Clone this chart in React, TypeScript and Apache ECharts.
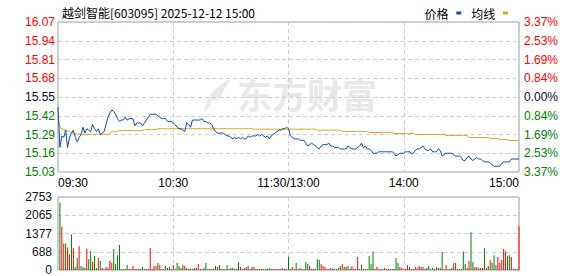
import React, { useEffect, useRef } from "react";
import * as echarts from "echarts";

const TITLE = "越剑智能[603095] 2025-12-12 15:00";
const PRICE_TICKS = ["15.03", "15.16", "15.29", "15.42", "15.55", "15.68", "15.81", "15.94", "16.07"];
const PCT_TICKS = ["3.37%", "2.53%", "1.69%", "0.84%", "0.00%", "0.84%", "1.69%", "2.53%", "3.37%"];
const VOL_TICKS = ["0", "688", "1377", "2065", "2753"];
const PRICE_BASE = 15.03;
const PRICE_STEP = 0.13;
const VOL_MAX = 2753;
const TIME_LABELS: Record<number, string> = { 0: "09:30", 60: "10:30", 120: "11:30/13:00", 180: "14:00", 240: "15:00" };

const price = [
  15.48, 15.20, 15.28, 15.27, 15.32, 15.20, 15.27, 15.30, 15.32, 15.27,
  15.24, 15.27, 15.29, 15.34, 15.30, 15.33, 15.32, 15.31, 15.36, 15.33,
  15.31, 15.33, 15.29, 15.30, 15.31, 15.36, 15.41, 15.44, 15.46, 15.45,
  15.43, 15.40, 15.38, 15.39, 15.39, 15.41, 15.39, 15.40, 15.40, 15.40,
  15.35, 15.37, 15.37, 15.37, 15.35, 15.37, 15.39, 15.41, 15.43, 15.43,
  15.43, 15.43, 15.42, 15.41, 15.40, 15.40, 15.40, 15.38, 15.38, 15.38,
  15.37, 15.36, 15.34, 15.33, 15.33, 15.32, 15.31, 15.37, 15.36, 15.34,
  15.39, 15.39, 15.39, 15.39, 15.39, 15.40, 15.38, 15.38, 15.37, 15.37,
  15.36, 15.33, 15.31, 15.30, 15.30, 15.30, 15.30, 15.29, 15.28, 15.28,
  15.27, 15.26, 15.27, 15.26, 15.27, 15.26, 15.27, 15.26, 15.26, 15.28,
  15.27, 15.28, 15.28, 15.28, 15.29, 15.28, 15.29, 15.28, 15.27, 15.28,
  15.26, 15.28, 15.29, 15.30, 15.31, 15.32, 15.32, 15.33, 15.33, 15.34,
  15.33,
  15.28, 15.27, 15.26, 15.26, 15.26, 15.25, 15.25, 15.25, 15.23, 15.21,
  15.22, 15.23, 15.22, 15.21, 15.20, 15.19, 15.21, 15.22, 15.22, 15.22,
  15.23, 15.21, 15.21, 15.20, 15.20, 15.20, 15.19, 15.19, 15.19, 15.19,
  15.21, 15.20, 15.19, 15.19, 15.19, 15.20, 15.21, 15.23, 15.20, 15.21,
  15.19, 15.19, 15.18, 15.16, 15.16, 15.16, 15.17, 15.17, 15.17, 15.17,
  15.17, 15.17, 15.17, 15.17, 15.16, 15.14, 15.15, 15.16, 15.16, 15.16,
  15.17, 15.17, 15.17, 15.16, 15.16, 15.18, 15.19, 15.19, 15.20, 15.21,
  15.19, 15.18, 15.18, 15.19, 15.17, 15.17, 15.17, 15.19, 15.18, 15.14,
  15.15, 15.16, 15.16, 15.16, 15.16, 15.15, 15.14, 15.14, 15.14, 15.13,
  15.11, 15.11, 15.13, 15.14, 15.12, 15.11, 15.12, 15.13, 15.12, 15.12,
  15.11, 15.10, 15.10, 15.10, 15.09, 15.08, 15.07, 15.07, 15.07, 15.07,
  15.09, 15.10, 15.10, 15.10, 15.10, 15.12, 15.12, 15.12, 15.12, 15.12,
];

const avgPrice = [
  15.41, 15.34, 15.33, 15.325, 15.32, 15.315, 15.31, 15.305, 15.3, 15.297,
  15.292, 15.292, 15.292, 15.292, 15.292, 15.292, 15.292, 15.292, 15.292, 15.292,
  15.292, 15.292, 15.292, 15.292, 15.292, 15.292, 15.292, 15.3, 15.31, 15.31,
  15.31, 15.31, 15.318, 15.318, 15.318, 15.318, 15.318, 15.318, 15.318, 15.318,
  15.318, 15.318, 15.318, 15.318, 15.318, 15.325, 15.325, 15.325, 15.325, 15.325,
  15.325, 15.325, 15.33, 15.33, 15.33, 15.33, 15.33, 15.33, 15.33, 15.33,
  15.33, 15.33, 15.33, 15.33, 15.33, 15.33, 15.33, 15.33, 15.33, 15.33,
  15.33, 15.33, 15.33, 15.33, 15.33, 15.33, 15.33, 15.33, 15.33, 15.33,
  15.33, 15.33, 15.33, 15.33, 15.33, 15.33, 15.33, 15.33, 15.33, 15.33,
  15.33, 15.33, 15.33, 15.33, 15.33, 15.33, 15.33, 15.33, 15.33, 15.33,
  15.33, 15.33, 15.327, 15.327, 15.327, 15.327, 15.327, 15.327, 15.327, 15.327,
  15.327, 15.327, 15.327, 15.327, 15.327, 15.327, 15.327, 15.327, 15.327, 15.327,
  15.327,
  15.327, 15.327, 15.327, 15.327, 15.327, 15.327, 15.327, 15.327, 15.327, 15.327,
  15.327, 15.327, 15.327, 15.327, 15.32, 15.32, 15.32, 15.32, 15.32, 15.32,
  15.32, 15.32, 15.32, 15.32, 15.32, 15.32, 15.32, 15.311, 15.311, 15.311,
  15.311, 15.311, 15.311, 15.311, 15.311, 15.311, 15.311, 15.311, 15.311, 15.311,
  15.311, 15.304, 15.304, 15.304, 15.304, 15.304, 15.304, 15.304, 15.304, 15.304,
  15.304, 15.304, 15.304, 15.304, 15.297, 15.297, 15.297, 15.297, 15.297, 15.297,
  15.297, 15.297, 15.297, 15.297, 15.297, 15.29, 15.29, 15.29, 15.29, 15.29,
  15.29, 15.29, 15.29, 15.29, 15.29, 15.29, 15.29, 15.29, 15.29, 15.29,
  15.29, 15.283, 15.283, 15.283, 15.283, 15.283, 15.283, 15.283, 15.283, 15.283,
  15.283, 15.283, 15.283, 15.269, 15.269, 15.269, 15.269, 15.269, 15.269, 15.269,
  15.269, 15.269, 15.269, 15.269, 15.262, 15.262, 15.262, 15.262, 15.262, 15.255,
  15.255, 15.255, 15.255, 15.255, 15.248, 15.248, 15.248, 15.248, 15.248, 15.248,
];

const volume = [
  0, 2540, 1640, 1000, 1000, 850, 590, 1350, 825, 110,
  450, 900, 150, 110, 75, 790, 410, 710, 300, 525,
  75, 450, 340, 75, 40, 110, 75, 340, 260, 790,
  225, 560, 940, 40, 40, 40, 190, 40, 40, 150,
  40, 40, 40, 40, 110, 40, 40, 40, 825, 40,
  150, 150, 260, 190, 40, 40, 150, 75, 110, 40,
  190, 40, 260, 150, 75, 190, 150, 75, 40, 40,
  40, 75, 75, 225, 40, 40, 75, 260, 40, 40,
  40, 40, 150, 110, 190, 40, 40, 40, 190, 40,
  75, 75, 40, 40, 300, 110, 40, 75, 110, 150,
  40, 110, 110, 40, 40, 40, 40, 40, 40, 40,
  75, 40, 40, 40, 40, 40, 40, 75, 40, 40,
  490,
  40, 110, 40, 260, 40, 75, 40, 40, 300, 225,
  150, 40, 40, 40, 410, 375, 225, 150, 110, 40,
  40, 75, 40, 40, 40, 75, 150, 225, 110, 110,
  150, 40, 150, 40, 40, 490, 40, 190, 40, 40,
  40, 525, 225, 710, 40, 110, 40, 40, 40, 75,
  40, 40, 40, 40, 40, 450, 260, 110, 75, 40,
  40, 190, 110, 40, 40, 110, 75, 150, 110, 110,
  40, 75, 150, 40, 75, 40, 110, 75, 75, 675,
  40, 190, 40, 40, 75, 260, 260, 40, 40, 40,
  710, 225, 75, 340, 1425, 300, 110, 110, 75, 75,
  75, 825, 75, 150, 375, 260, 560, 190, 490, 260,
  375, 790, 710, 525, 560, 490, 40, 40, 40, 1650,
];

// r = up minute (red), g = down minute (green)
const volumeDir = (
  "ggrrgrrgrg" + "grgggrggrg" + "grgrgrrrrg" + "gggrrrggrr" + "rgrggrrrrr" +
  "rrgrggrggg" + "rggggrgrgr" + "ggrrrrgggg" + "grgrgrgrgr" + "ggrrgrggrr" +
  "ggrrrrrggr" + "grrrrrrrrr" + "g" +
  "rrrgrgrggg" + "rrggggrrrr" + "rrgggggrrg" + "grrrgrrggr" + "ggggrrrrgr" +
  "rggrgggrrr" + "rrgrgrrrrg" + "rggrgrgrgg" + "rrrgrgrrrg" + "ggrrggrrgr" +
  "rgrgrgggrr" + "rrrggrrrrr"
).split("");

function buildTimes(): string[] {
  const pad = (n: number) => String(n).padStart(2, "0");
  const out: string[] = [];
  for (let m = 9 * 60 + 30; m <= 11 * 60 + 30; m++) out.push(pad(Math.floor(m / 60)) + ":" + pad(m % 60));
  for (let m = 13 * 60 + 1; m <= 15 * 60; m++) out.push(pad(Math.floor(m / 60)) + ":" + pad(m % 60));
  return out;
}

const RED = "#ff0000";
const GREEN = "#008000";
const DARK = "#0a0a1e";
const BLUE = "#0c4ea2";
const GOLD = "#dca21d";
const GRIDLINE = "#cfcfcf";
const BORDER = "#999999";
const LATIN = "Arial, 'Liberation Sans', sans-serif";
const CJK = "'Noto Sans CJK SC', sans-serif";

echarts.graphic.registerShape(
  "logo",
  echarts.graphic.extendPath(
    "M6 34 C8 20 16 8 34 0 C26 8 22 15 20 22 L14 22 C13 27 10 31 6 34 Z M15 20 C17 14 22 9 31 5 C26 11 24 15 22 20 Z",
    {}
  )
);

export default function App() {
  const ref = useRef<HTMLDivElement>(null);

  useEffect(() => {
    if (!ref.current) return;
    const chart = echarts.init(ref.current, null, { renderer: "svg" });
    const times = buildTimes();
    const levelColor = (v: any) => {
      const idx = Math.round(Number(v));
      return idx > 4 ? RED : idx === 4 ? DARK : GREEN;
    };
    const dashed = { color: GRIDLINE, type: [4, 3] as any, width: 1 };

    chart.setOption({
      animation: false,
      backgroundColor: "#ffffff",
      title: {
        text: TITLE,
        left: 57,
        top: 1,
        textStyle: { fontSize: 12, fontWeight: "normal", color: "#000", fontFamily: CJK },
      },
      legend: {
        data: [
          { name: "价格", icon: "rect" },
          { name: "均线", icon: "rect" },
        ],
        right: 65,
        top: 2,
        align: "right",
        itemWidth: 5,
        itemHeight: 3,
        itemGap: 10,
        formatter: (name: string) => name + " ",
        textStyle: { fontSize: 12, color: "#000", fontFamily: CJK },
      },
      graphic: [
        {
          type: "text",
          left: 237,
          top: 76,
          z: 0,
          silent: true,
          style: { text: "东方财富", fontSize: 35, fontWeight: "bold", fill: "#e8e8ea", fontFamily: CJK },
        },
        {
          type: "logo",
          x: 198,
          y: 78,
          z: 0,
          silent: true,
          style: { fill: "#e8e8ea" },
        },
      ],
      grid: [
        { left: 58, top: 22, width: 461, height: 150, show: true, borderColor: BORDER, borderWidth: 1, backgroundColor: "transparent" },
        { left: 58, top: 197, width: 461, height: 73, show: true, borderColor: BORDER, borderWidth: 1, backgroundColor: "transparent" },
      ],
      xAxis: [
        {
          type: "category",
          gridIndex: 0,
          data: times,
          boundaryGap: false,
          axisLine: { show: false },
          axisTick: { show: false },
          axisLabel: {
            interval: (i: number) => TIME_LABELS[i] !== undefined,
            formatter: (_v: string, i: number) => TIME_LABELS[i] ?? "",
            fontSize: 12,
            color: "#000",
            fontFamily: LATIN,
            margin: 5,
            alignMinLabel: "left",
            alignMaxLabel: "right",
          },
          splitLine: { show: true, interval: (i: number) => i % 60 === 0, lineStyle: dashed },
        },
        {
          type: "category",
          gridIndex: 1,
          data: times,
          boundaryGap: false,
          axisLine: { show: false },
          axisTick: { show: false },
          axisLabel: { show: false },
          splitLine: { show: true, interval: (i: number) => i % 60 === 0, lineStyle: dashed },
        },
      ],
      yAxis: [
        {
          type: "value",
          gridIndex: 0,
          min: 0,
          max: PRICE_TICKS.length - 1,
          interval: 1,
          axisLine: { show: false },
          axisTick: { show: false },
          axisLabel: {
            formatter: (v: number) => PRICE_TICKS[Math.round(v)],
            color: levelColor,
            fontSize: 12,
            fontFamily: LATIN,
            margin: 3,
          },
          splitLine: { show: true, lineStyle: dashed },
        },
        {
          type: "value",
          gridIndex: 0,
          position: "right",
          min: 0,
          max: PCT_TICKS.length - 1,
          interval: 1,
          axisLine: { show: false },
          axisTick: { show: false },
          axisLabel: {
            formatter: (v: number) => PCT_TICKS[Math.round(v)],
            color: levelColor,
            fontSize: 12,
            fontFamily: LATIN,
            margin: 5,
          },
          splitLine: { show: false },
        },
        {
          type: "value",
          gridIndex: 1,
          min: 0,
          max: VOL_MAX,
          interval: VOL_MAX / (VOL_TICKS.length - 1),
          axisLine: { show: false },
          axisTick: { show: false },
          axisLabel: {
            formatter: (v: number) => VOL_TICKS[Math.round(v / (VOL_MAX / (VOL_TICKS.length - 1)))],
            color: "#111",
            fontSize: 12,
            fontFamily: LATIN,
            margin: 6,
          },
          splitLine: { show: true, lineStyle: dashed },
        },
      ],
      series: [
        {
          name: "价格",
          type: "line",
          xAxisIndex: 0,
          yAxisIndex: 0,
          data: price.map((p) => (p - PRICE_BASE) / PRICE_STEP),
          showSymbol: false,
          color: BLUE,
          lineStyle: { color: BLUE, width: 1 },
          z: 4,
        },
        {
          name: "均线",
          type: "line",
          xAxisIndex: 0,
          yAxisIndex: 0,
          data: avgPrice.map((p) => (p - PRICE_BASE) / PRICE_STEP),
          showSymbol: false,
          color: GOLD,
          lineStyle: { color: GOLD, width: 1 },
          z: 3,
        },
        {
          name: "成交量",
          type: "bar",
          xAxisIndex: 1,
          yAxisIndex: 2,
          barWidth: 1,
          data: volume.map((v, i) => ({
            value: v,
            itemStyle: { color: volumeDir[i] === "r" ? RED : GREEN },
          })),
        },
      ],
    });
    return () => chart.dispose();
  }, []);

  return (
    <div
      ref={ref}
      style={{ position: "fixed", left: 0, top: 0, width: 578, height: 276, background: "#fff" }}
    />
  );
}
